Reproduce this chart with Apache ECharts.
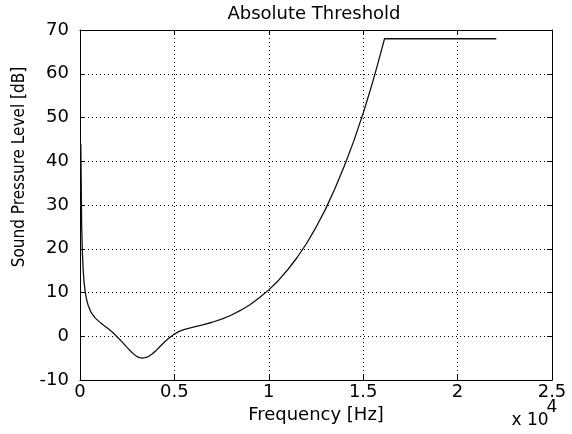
<!DOCTYPE html>
<html>
<head>
<meta charset="utf-8">
<script src="https://cdn.jsdelivr.net/npm/echarts@6/dist/echarts.min.js"></script>
<style>
  html, body { margin: 0; padding: 0; background: #fff; }
  #chart { width: 572px; height: 434px; }
</style>
</head>
<body>
<div id="chart"></div>
<script>
// values (Hz, dB)
const freqs = [43, 86, 129, 172, 215, 258, 301, 366, 431, 560, 646, 800, 1000, 1250, 1500, 1750,
    2000, 2250, 2500, 2750, 3000, 3150, 3300, 3450, 3600, 3800, 4000, 4250, 4500, 4750,
    5000, 5250, 5500, 5750, 6000, 6500, 7000, 7500, 8000, 8500, 9000, 9500, 10000, 10500,
    11000, 11500, 12000, 12500, 13000, 13500, 14000, 14500, 15000, 15250, 15500, 15750,
    16000, 16130, 22050];
const levels = [44, 25.9, 18.7, 14.9, 12.4, 10.8, 9.5, 8.1, 7.1, 5.7, 5.1, 4.2, 3.4, 2.5, 1.7, 0.8,
    -0.3, -1.4, -2.6, -3.7, -4.6, -4.9, -5.0, -4.9, -4.7, -4.1, -3.4, -2.3, -1.2, -0.3,
    0.5, 1.1, 1.5, 1.8, 2.1, 2.6, 3.2, 3.9, 4.8, 5.9, 7.2, 8.8, 10.6, 12.7,
    15.2, 18.0, 21.2, 24.9, 29.0, 33.7, 38.9, 44.6, 51.0, 54.5, 58.1, 61.9,
    65.9, 68, 68];
const xTicks = ['0', '0.5', '1', '1.5', '2', '2.5'];

const txt = '#000';
const wide = 'DejaVu Sans, sans-serif';
const cond = 'DejaVu Sans Condensed, Liberation Sans, sans-serif';

let chart = echarts.init(document.getElementById('chart'));

let dotted = { show: true, lineStyle: { color: '#000', type: [1, 3], width: 1 } };

chart.setOption({
    animation: false,
    grid: { left: 80, right: 20, top: 30, bottom: 54, containLabel: false },
    xAxis: [
        {
            type: 'value', min: 0, max: 25000, interval: 5000,
            name: 'Frequency [Hz]', nameLocation: 'middle', nameGap: 23,
            nameTextStyle: { color: txt, fontSize: 18, fontFamily: wide },
            axisLine: { onZero: false, lineStyle: { color: '#000', width: 1 } },
            axisTick: { inside: true, length: 5, lineStyle: { color: '#000' } },
            axisLabel: {
                color: txt, fontSize: 18, fontFamily: wide, margin: 3,
                formatter: (v) => xTicks[Math.round(v / 5000)]
            },
            splitLine: dotted
        },
        {
            type: 'value', min: 0, max: 25000, interval: 5000, position: 'top',
            axisLine: { onZero: false, lineStyle: { color: '#000', width: 1 } },
            axisTick: { inside: true, length: 5, lineStyle: { color: '#000' } },
            axisLabel: { show: false },
            splitLine: { show: false }
        }
    ],
    yAxis: [
        {
            type: 'value', min: -10, max: 70, interval: 10,
            axisLine: { show: true, onZero: false, lineStyle: { color: '#000', width: 1 } },
            axisTick: { show: true, inside: true, length: 5, lineStyle: { color: '#000' } },
            axisLabel: { color: txt, fontSize: 18, fontFamily: wide, margin: 11 },
            splitLine: dotted
        },
        {
            type: 'value', min: -10, max: 70, interval: 10, position: 'right',
            axisLine: { show: true, onZero: false, lineStyle: { color: '#000', width: 1 } },
            axisTick: { show: true, inside: true, length: 5, lineStyle: { color: '#000' } },
            axisLabel: { show: false },
            splitLine: { show: false }
        }
    ],
    graphic: [
        {
            type: 'text', x: 314, y: 14,
            style: { text: 'Absolute Threshold', fill: txt, fontSize: 18, fontFamily: wide,
                align: 'center', verticalAlign: 'middle' }
        },
        {
            type: 'text', x: 20, y: 167, rotation: Math.PI / 2,
            style: { text: 'Sound Pressure Level [dB]', fill: txt, fontSize: 17, fontFamily: cond,
                align: 'center', verticalAlign: 'middle' }
        },
        {
            type: 'text', x: 530, y: 421,
            style: { text: 'x 10', fill: txt, fontSize: 17, fontFamily: wide,
                align: 'center', verticalAlign: 'middle' }
        },
        {
            type: 'text', x: 552, y: 408,
            style: { text: '4', fill: txt, fontSize: 17, fontFamily: wide,
                align: 'center', verticalAlign: 'middle' }
        }
    ],
    series: [
        {
            type: 'line',
            data: freqs.map((f, i) => [f, levels[i]]),
            showSymbol: false,
            lineStyle: { color: '#111', width: 1.3 }
        }
    ]
});
</script>
</body>
</html>
